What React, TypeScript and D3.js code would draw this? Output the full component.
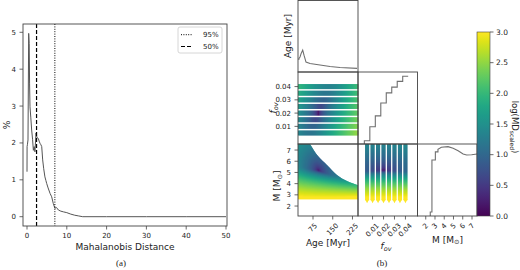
import React from 'react';
import * as d3 from 'd3';

// ---------- panel (a) data ----------
const mdDist = [0,0.02,0.1,0.25,0.42,0.55,0.65,0.75,0.95,1.17,1.4,1.6,1.8,2.0,2.26,2.5,2.85,3.05,3.27,3.5,3.7,3.94,4.2,4.5,4.75,4.95,5.3,5.8,6.2,6.6,7.0,7.4,7.9,8.5,9.2,10,11,12,13,14,20,30,40,50];
const mdPct = [1.22,1.9,1.95,2.08,4.97,4.7,3.6,2.98,2.7,2.35,2.1,1.8,1.9,1.76,2.27,2.15,2.12,2.05,1.99,1.95,1.9,1.54,1.3,1.08,0.98,0.9,0.78,0.63,0.54,0.36,0.23,0.25,0.18,0.15,0.13,0.11,0.07,0.04,0.02,0,0,0,0,0];
const pct50 = 2.4;
const pct95 = 7.0;
const aXTicks = [0,10,20,30,40,50];
const aYTicks = [0,1,2,3,4,5];

// ---------- panel (b) data ----------
const ageHistAge = [21,21.8,25.6,30,35.9,40.8,48.4,63.6,101.6,139.7,177.7,242.3];
const ageHistVal = [0.17,0.19,0.21,0.26,0.306,0.236,0.139,0.118,0.097,0.076,0.063,0.051];
const fovValues = [0.005,0.01,0.015,0.02,0.025,0.03,0.035,0.04];
const fovHist = [0.046,0.24,0.39,0.57,0.71,0.79,0.87,0.94];
const massHistM = [2.49,2.49,2.67,2.67,3.04,3.04,3.32,3.32,3.51,3.69,4.41,4.96,5.5,6.04,6.42,6.96,7.54];
const massHistV = [0,0.056,0.056,0.778,0.778,0.89,0.89,0.926,0.94,0.954,0.963,0.94,0.907,0.861,0.847,0.851,0.861];
// upper age limit of the model grid for each mass (edge of the coloured area)
const boundaryAge = [63.6,94,128,166,204,246];
const boundaryM = [7.54,6.46,5.66,4.77,4.23,3.85];
const minMass = 2.6;
const ageTicks = [75,150,225];
const fovTicks = [0.01,0.02,0.03,0.04];
const massTicks = [2,3,4,5,6,7];
const cbTicks = [0,0.5,1,1.5,2,2.5,3];
// best-fit point and widths of the log(MD) valley
const bestAge = 95, bestM = 5.2, bestF = 0.02;

const FONT = 'DejaVu Sans, sans-serif';
const TXT = '#222';
const FRAME = '#444';
const HIST = '#707070';

// panel (a) scales
const aL = 23, aR = 227, aT = 24, aB = 226;
const xA = d3.scaleLinear().domain([0, 50]).range([27, 226]);
const yA = d3.scaleLinear().domain([0, 5]).range([216.7, 32.3]);

// panel (b) layout
const C0 = 298, C1 = 358, C2 = 417.5, C3 = 477;
const R0 = 0.5, R1 = 72, R2 = 144, R3 = 216;
const ageX = d3.scaleLinear().domain([18, 246]).range([C0, C1]);
const fY = d3.scaleLinear().domain([-0.0033, 0.051]).range([R2, R1]);
const mY = d3.scaleLinear().domain([1.11, 7.54]).range([R3, R2]);
const fX = d3.scaleLinear().domain([-0.0033, 0.051]).range([C1, C2]);
const mX = d3.scaleLinear().domain([1.11, 7.54]).range([C2, C3]);
const ageHY = d3.scaleLinear().domain([0, 1]).range([R1, R0]);
const fHY = d3.scaleLinear().domain([0, 1]).range([R2, R1]);
const mHY = d3.scaleLinear().domain([0, 1]).range([R3, R2]);
const cbY = d3.scaleLinear().domain([0, 3]).range([216, 32]);
const color = (v: number) => d3.interpolateViridis(Math.max(0, Math.min(3, v)) / 3);

const clamp3 = (v: number) => Math.max(0, Math.min(3, v));
function zMass(M: number, mv: number, sLow: number) {
  const dm = M - mv;
  return dm < 0 ? dm / sLow : dm / 14;
}
function fieldAM(age: number, M: number) {
  const mv = bestM - 0.006 * (age - bestAge);
  const sLow = 2.4 - 0.006 * (age - bestAge);
  const za = age < bestAge ? (age - bestAge) / 440 : (age - bestAge) / 540;
  return clamp3(3 * Math.pow(Math.hypot(za, zMass(M, mv, sLow)), 0.45));
}
function fieldAF(age: number, f: number) {
  const a0 = bestAge + 2000 * (f - bestF);
  const za = age < a0 ? (age - a0) / 300 : (age - a0) / 260;
  const zf = (f - bestF) / 0.1;
  return clamp3(3 * Math.pow(Math.hypot(za, zf), 0.5));
}
function fieldFM(f: number, M: number) {
  const zf = (f - bestF) / 0.23;
  return clamp3(3 * Math.pow(Math.hypot(zf, zMass(M, bestM, 2.4)), 0.45));
}

function charW(c: string) {
  if (c === '.') return 0.318;
  return 0.636;
}
function RotTick({ x, text }: { x: number; text: string }) {
  const size = 7;
  const w = text.split('').reduce((s, c) => s + charW(c), 0) * size;
  const h = 0.73 * size;
  const b = (w + h) / Math.SQRT2;
  return (
    <text transform={`translate(${x},${R3 + 7 + b / 2}) rotate(-45)`} textAnchor="middle"
      dominantBaseline="central" fontSize={size} fill={TXT}>{text}</text>
  );
}

export default function App() {
  const curve = d3.line<number>().x((_, i) => xA(mdDist[i])).y((_, i) => yA(mdPct[i]))(mdPct as any) || '';

  // heat map grids
  const nA = 60, nM = 72;
  const ageStep = (246 - 18) / nA;
  const mStep = (7.54 - 1.11) / nM;
  const ageGrid = d3.range(nA).map(i => 18 + (i + 0.5) * ageStep);
  const mGrid = d3.range(nM).map(j => 1.11 + (j + 0.5) * mStep).filter(m => m > minMass - mStep / 2);

  const amCells: JSX.Element[] = [];
  ageGrid.forEach((a, i) => {
    mGrid.forEach((m, j) => {
      const x0 = ageX(a - ageStep / 2), y0 = mY(m + mStep / 2);
      amCells.push(<rect key={`am${i}-${j}`} x={x0} y={y0} width={ageX(a + ageStep / 2) - x0 + 0.4}
        height={mY(m - mStep / 2) - y0 + 0.4} fill={color(fieldAM(a, m))} />);
    });
  });
  const bLine = d3.line<number>().x((_, i) => ageX(boundaryAge[i])).y((_, i) => mY(boundaryM[i])).curve(d3.curveMonotoneX)(boundaryM as any) || '';
  const clipD = `M${ageX(18)},${mY(7.54)}L${bLine.slice(1)}L${ageX(246)},${mY(minMass)}L${ageX(18)},${mY(minMass)}Z`;

  const afCells: JSX.Element[] = [];
  fovValues.forEach((f, k) => {
    const yTop = fY(f + 0.0025) + 0.8, yBot = fY(f - 0.0025) - 0.8;
    ageGrid.forEach((a, i) => {
      const x0 = ageX(a - ageStep / 2);
      afCells.push(<rect key={`af${k}-${i}`} x={x0} y={yTop} width={ageX(a + ageStep / 2) - x0 + 0.4}
        height={yBot - yTop} fill={color(fieldAF(a, f))} />);
    });
  });

  const fmCells: JSX.Element[] = [];
  fovValues.forEach((f, k) => {
    const xL = fX(f - 0.0025) + 0.7, xR = fX(f + 0.0025) - 0.7;
    mGrid.forEach((m, j) => {
      const y0 = mY(m + mStep / 2);
      fmCells.push(<rect key={`fm${k}-${j}`} x={xL} y={y0} width={xR - xL}
        height={mY(m - mStep / 2) - y0 + 0.4} fill={color(fieldFM(f, m))} />);
    });
    const yb = mY(minMass);
    fmCells.push(<path key={`tri${k}`} d={`M${xL},${yb}L${xR},${yb}L${(xL + xR) / 2},${yb + 4}Z`} fill={color(fieldFM(f, minMass))} />);
  });

  const ageHistPath = d3.line<number>().x((_, i) => ageX(ageHistAge[i])).y((_, i) => ageHY(ageHistVal[i]))(ageHistVal as any) || '';
  let fHistPath = '';
  fovValues.forEach((f, k) => {
    const xl = fX(f - 0.0025), xr = fX(f + 0.0025), y = fHY(fovHist[k]);
    fHistPath += k === 0 ? `M${xl},${fHY(0)}L${xl},${y}L${xr},${y}` : `L${xl},${y}L${xr},${y}`;
  });
  const mHistPath = d3.line<number>().x((_, i) => mX(massHistM[i])).y((_, i) => mHY(massHistV[i]))(massHistV as any) || '';

  const gradStops = d3.range(0, 1.0001, 0.05);

  const frame = (x0: number, y0: number, x1: number, y1: number, key: string) =>
    <rect key={key} x={x0} y={y0} width={x1 - x0} height={y1 - y0} fill="none" stroke={FRAME} strokeWidth={0.9} />;

  return (
    <svg width={520} height={270} style={{ position: 'absolute', left: 0, top: 0, background: '#fff' }} fontFamily={FONT}>
      <defs>
        <clipPath id="amclip"><path d={clipD} /></clipPath>
        <linearGradient id="vir" x1="0" y1="1" x2="0" y2="0">
          {gradStops.map(t => <stop key={t} offset={t} stopColor={d3.interpolateViridis(t)} />)}
        </linearGradient>
      </defs>
      <rect width={520} height={270} fill="#fff" />

      {/* ---------- panel (a) ---------- */}
      <path d={curve} fill="none" stroke="#555" strokeWidth={1} />
      <line x1={xA(pct50)} x2={xA(pct50)} y1={aT} y2={aB} stroke="#000" strokeWidth={1.2} strokeDasharray="4,2" />
      <line x1={xA(pct95)} x2={xA(pct95)} y1={aT} y2={aB} stroke="#000" strokeWidth={1} strokeDasharray="1,1.4" />
      <rect x={aL} y={aT} width={aR - aL} height={aB - aT} fill="none" stroke={FRAME} strokeWidth={0.9} />
      {aXTicks.map(t => (
        <g key={`ax${t}`}>
          <line x1={xA(t)} x2={xA(t)} y1={aB} y2={aB + 3.5} stroke={FRAME} strokeWidth={0.8} />
          <text x={xA(t)} y={aB + 12} textAnchor="middle" fontSize={7} fill={TXT}>{t}</text>
        </g>
      ))}
      {aYTicks.map(t => (
        <g key={`ay${t}`}>
          <line x1={aL - 3.5} x2={aL} y1={yA(t)} y2={yA(t)} stroke={FRAME} strokeWidth={0.8} />
          <text x={aL - 7} y={yA(t) + 2.5} textAnchor="end" fontSize={7} fill={TXT}>{t}</text>
        </g>
      ))}
      <text x={125} y={250} textAnchor="middle" fontSize={9} fill={TXT}>Mahalanobis Distance</text>
      <text transform="translate(9.5,125) rotate(-90)" textAnchor="middle" fontSize={9} fill={TXT}>%</text>
      <rect x={178} y={27} width={44} height={26} rx={2} fill="#fff" fillOpacity={0.85} stroke="#ccc" strokeWidth={0.8} />
      <line x1={181} x2={193} y1={34.7} y2={34.7} stroke="#000" strokeWidth={1} strokeDasharray="1,1.4" />
      <text x={203} y={37.2} fontSize={7} fill={TXT}>95%</text>
      <line x1={181} x2={193} y1={46.5} y2={46.5} stroke="#000" strokeWidth={1.2} strokeDasharray="4,2" />
      <text x={203} y={49} fontSize={7} fill={TXT}>50%</text>
      <text x={121} y={266} textAnchor="middle" fontSize={9} fontFamily="Liberation Serif, serif" fill={TXT}>(a)</text>

      {/* ---------- panel (b) ---------- */}
      <g clipPath="url(#amclip)">{amCells}</g>
      <g>{afCells}</g>
      <g>{fmCells}</g>
      <path d={ageHistPath} fill="none" stroke={HIST} strokeWidth={1.1} />
      <path d={fHistPath} fill="none" stroke={HIST} strokeWidth={1.1} />
      <path d={mHistPath} fill="none" stroke={HIST} strokeWidth={1.1} />

      {frame(C0, R0, C1, R1, 'f1')}
      {frame(C0, R1, C1, R2, 'f2')}
      {frame(C1, R1, C2, R2, 'f3')}
      {frame(C0, R2, C1, R3, 'f4')}
      {frame(C1, R2, C2, R3, 'f5')}
      {frame(C2, R2, C3, R3, 'f6')}

      {/* y ticks */}
      {fovTicks.map(t => (
        <g key={`fy${t}`}>
          <line x1={C0 - 3.5} x2={C0} y1={fY(t)} y2={fY(t)} stroke={FRAME} strokeWidth={0.8} />
          <text x={C0 - 7} y={fY(t) + 2.5} textAnchor="end" fontSize={7} fill={TXT}>{t.toFixed(2)}</text>
        </g>
      ))}
      {massTicks.map(t => (
        <g key={`my${t}`}>
          <line x1={C0 - 3.5} x2={C0} y1={mY(t)} y2={mY(t)} stroke={FRAME} strokeWidth={0.8} />
          <text x={C0 - 7} y={mY(t) + 2.5} textAnchor="end" fontSize={7} fill={TXT}>{t}</text>
        </g>
      ))}
      {/* x ticks */}
      {ageTicks.map(t => (
        <g key={`axb${t}`}>
          <line x1={ageX(t)} x2={ageX(t)} y1={R3} y2={R3 + 3.5} stroke={FRAME} strokeWidth={0.8} />
          <RotTick x={ageX(t)} text={String(t)} />
        </g>
      ))}
      {fovTicks.map(t => (
        <g key={`fx${t}`}>
          <line x1={fX(t)} x2={fX(t)} y1={R3} y2={R3 + 3.5} stroke={FRAME} strokeWidth={0.8} />
          <RotTick x={fX(t)} text={t.toFixed(2)} />
        </g>
      ))}
      {massTicks.map(t => (
        <g key={`mx${t}`}>
          <line x1={mX(t)} x2={mX(t)} y1={R3} y2={R3 + 3.5} stroke={FRAME} strokeWidth={0.8} />
          <RotTick x={mX(t)} text={String(t)} />
        </g>
      ))}

      {/* axis labels */}
      <text transform="translate(291,36) rotate(-90)" textAnchor="middle" fontSize={9} fill={TXT}>Age [Myr]</text>
      <text transform="translate(276,108) rotate(-90)" textAnchor="middle" fontSize={9} fill={TXT}>
        <tspan fontStyle="italic">f</tspan><tspan fontStyle="italic" fontSize={6.5} dy={1.8}>ov</tspan>
      </text>
      <text transform="translate(280,186) rotate(-90)" textAnchor="middle" fontSize={9} fill={TXT}>
        M [M<tspan fontSize={6.5} dy={1.8}>⊙</tspan><tspan dy={-1.8}>]</tspan>
      </text>
      <text x={328} y={246} textAnchor="middle" fontSize={9} fill={TXT}>Age [Myr]</text>
      <text x={386} y={249} textAnchor="middle" fontSize={9} fill={TXT}>
        <tspan fontStyle="italic">f</tspan><tspan fontStyle="italic" fontSize={6.5} dy={1.8}>ov</tspan>
      </text>
      <text x={447.5} y={242.5} textAnchor="middle" fontSize={9} fill={TXT}>
        M [M<tspan fontSize={6.5} dy={1.8}>⊙</tspan><tspan dy={-1.8}>]</tspan>
      </text>
      <text x={382} y={265.5} textAnchor="middle" fontSize={9} fontFamily="Liberation Serif, serif" fill={TXT}>(b)</text>

      {/* colour bar */}
      <rect x={477} y={cbY(3)} width={13} height={cbY(0) - cbY(3)} fill="url(#vir)" />
      <rect x={477} y={cbY(3)} width={13} height={cbY(0) - cbY(3)} fill="none" stroke={FRAME} strokeWidth={0.6} />
      {cbTicks.map(t => (
        <g key={`cb${t}`}>
          <line x1={490} x2={493.5} y1={cbY(t)} y2={cbY(t)} stroke={FRAME} strokeWidth={0.8} />
          <text x={496} y={cbY(t) + 2.7} fontSize={7.5} fill={TXT}>{t.toFixed(1)}</text>
        </g>
      ))}
      <text transform="translate(512,127) rotate(90)" textAnchor="middle" fontSize={8.5} fill={TXT}>
        log(MD<tspan fontSize={6} dy={1.8}>scaled</tspan><tspan dy={-1.8}>)</tspan>
      </text>
    </svg>
  );
}
